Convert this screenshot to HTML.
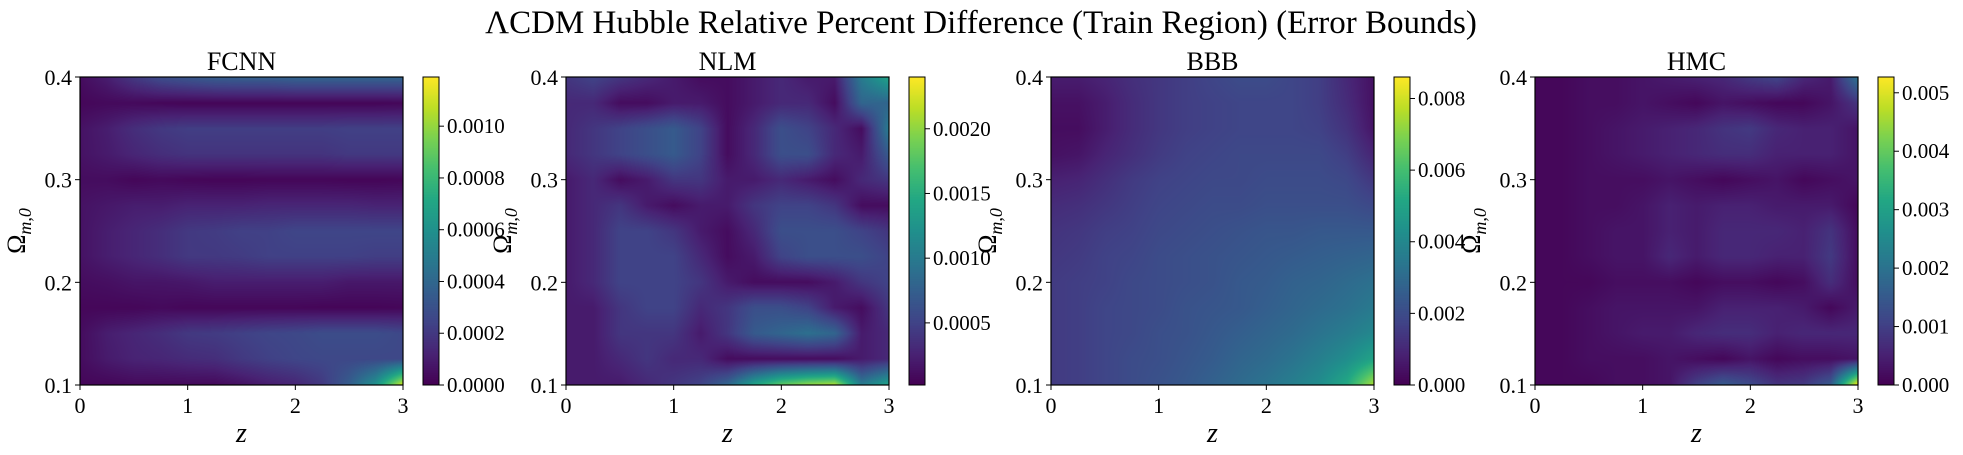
<!DOCTYPE html>
<html><head><meta charset="utf-8"><style>
body{margin:0;background:#fff;}
#wrap{position:relative;width:1963px;height:455px;overflow:hidden;background:#fff;}
canvas{position:absolute;}
svg{position:absolute;left:0;top:0;}
text{font-family:"Liberation Serif",serif;fill:#000;}
</style></head><body>
<div id="wrap">
<svg id="ov" width="1963" height="455"></svg>
</div>
<script>
// ---- data (values in units of 1e-4), rows from Omega=0.4 (top) to 0.1 (bottom), cols z=0..3 step 0.25
const zTicks=[0,1,2,3];
const omTicks=[0.1,0.2,0.3,0.4];
const panelTitles=["FCNN","NLM","BBB","HMC"];
const fcnnGrid=[
[0.4,1,2,2.8,3.2,3.5,3.6,3.6,3.8,3.8,3.8,3.8,3.8],
[0.2,0.3,0.3,0.2,0.15,0.15,0.15,0.15,0.15,0.15,0.15,0.15,0.2],
[0.6,1,1.6,2,2.2,2.2,2.2,2.2,2.2,2.2,2.3,2.3,2.3],
[0.6,0.9,1.3,1.6,1.8,1.8,1.8,1.8,1.8,1.8,2,2,2],
[0.4,0.4,0.2,0.3,0.2,0.15,0.15,0.2,0.2,0.2,0.15,0.15,0.2],
[0.6,0.8,1,1,1.2,1.2,1.2,1.3,1.3,1.3,1.3,1.2,1.2],
[0.6,1,1.3,1.6,2,2.1,2.3,2.3,2.5,2.5,2.5,2.5,2.5],
[0.6,1,1.3,1.6,2,2,2.1,2.3,2.3,2.3,2.3,2.2,2.2],
[0.4,0.5,0.7,0.7,0.8,1,1,1,1,1,0.8,0.8,0.8],
[0.2,0.2,0.2,0.3,0.2,0.2,0.2,0.2,0.2,0.15,0.15,0.15,0.2],
[0.4,1,1.3,1.6,2,2.1,2.3,2.5,2.6,2.8,2.8,2.8,2.6],
[0.4,0.9,1.2,1.3,1.5,1.6,2,2.3,2.5,2.6,2.6,2.6,2.6],
[0.2,0.2,0.3,0.3,0.3,0.3,0.6,1,1.3,2,3.5,6,11]];
const nlmGrid=[
[4,5,4,3,2,1,1,2,3,2,2,10,14],
[3,3,1,1,2,2,1,2,3,3,1,8,8],
[3,4,5,6,7,5,1,3,6,5,3,1,10],
[3,4,5,6,7,5,1,3,6,6,3,2,7],
[2,3,1,2,4,4,2,2,3,2,1,3,4],
[2,3,4,2,1,2,2,4,5,5,4,1,1],
[2,3,5,5,4,2,1,3,6,6,6,5,4],
[2,3,5,5,5,3,1,2,5,6,6,6,5],
[2,3,5,5,5,4,2,1,1,1,2,4,5],
[2,2,4,5,5,3,4,6,6,5,2,1,4],
[2,2,4,4,4,2,4,7,8,9,8,2,3],
[2,2,3,4,3,3,1,1,1,1,1,2,3],
[2,2,2,3,4,5,8,14,18,20,21,10,14]];
const bbbGrid=[
[7,7,9,12,14,16,18,20,20,18,16,10,4],
[4,4,7,11,14,16,17,18,18,18,16,11,4],
[3,3,7,11,14,16,17,18,18,18,17,13,5],
[4,5,9,12,15,17,18,19,19,19,19,16,9],
[8,9,12,15,17,18,19,19,20,20,20,19,14],
[11,12,14,16,18,19,20,20,21,21,21,21,19],
[13,14,16,17,19,20,21,22,23,23,24,24,24],
[14,15,17,18,20,21,22,23,24,25,26,27,28],
[15,16,17,19,20,21,22,24,25,27,28,30,32],
[15,16,18,19,20,22,23,24,26,28,30,32,35],
[15,16,18,19,21,22,24,26,28,30,33,36,40],
[15,16,18,20,21,23,25,28,30,33,37,42,50],
[15,16,18,20,22,24,27,30,33,37,42,52,75]];
const hmcGrid=[
[1,1,2,2,3,4,5,6,9,11,6,4,20],
[1,1,2,2,3,2,1,3,2,1,1,3,8],
[1,1,2,3,4,5,6,8,9,6,5,5,3],
[1,1,2,3,4,5,6,7,7,5,5,5,3],
[1,1,2,2,2,3,2,1,2,3,1,2,3],
[1,1,2,2,3,5,4,5,5,4,4,4,1],
[1,1,2,3,3,5,4,6,6,6,5,8,2],
[1,1,2,3,3,6,4,6,6,5,5,9,2],
[1,1,1,2,2,2,1,2,2,1,2,7,2],
[1,1,2,3,3,3,3,5,5,5,4,1,4],
[1,1,2,3,4,4,6,7,7,5,6,6,6],
[1,1,2,2,2,3,2,1,3,1,2,2,3],
[1,1,1,2,2,3,10,15,12,8,9,15,52]];
const cbarMin=[0,0.2,0,0];
const cbarMax=[11.9,24,86,52.7];
const cbarTicks=[[0,2,4,6,8,10],[5,10,15,20],[0,20,40,60,80],[0,10,20,30,40,50]];
const cbarLabels=[["0.0000","0.0002","0.0004","0.0006","0.0008","0.0010"],["0.0005","0.0010","0.0015","0.0020"],["0.000","0.002","0.004","0.006","0.008"],["0.000","0.001","0.002","0.003","0.004","0.005"]];
const grids=[fcnnGrid,nlmGrid,bbbGrid,hmcGrid];

// ---- layout
const panelLeft=[80,566,1051,1535];
const PW=323, PT=77, PH=308, CBOFF=343, CBW=16;
const NS='http://www.w3.org/2000/svg';
const ov=document.getElementById('ov');
const wrap=document.getElementById('wrap');
const VIR=[[68,1,84],[72,35,116],[64,67,135],[52,94,141],[41,120,142],[32,144,140],[34,167,132],[68,190,112],[121,209,81],[189,222,38],[253,231,37]];
function viridis(t){t=Math.max(0,Math.min(1,t));const f=t*10,i=Math.min(9,Math.floor(f)),r=f-i;const a=VIR[i],b=VIR[i+1];return [a[0]+(b[0]-a[0])*r,a[1]+(b[1]-a[1])*r,a[2]+(b[2]-a[2])*r];}
function el(tag,attrs,txt){const e=document.createElementNS(NS,tag);for(const k in attrs)e.setAttribute(k,attrs[k]);if(txt!==undefined)e.textContent=txt;ov.appendChild(e);return e;}
function xScale(p,z){return panelLeft[p]+z/3*PW;}
function yScale(o){return PT+PH-(o-0.1)/0.3*PH;}

const st=el('text',{x:981,y:33,'font-size':33,'text-anchor':'middle'},'ΛCDM Hubble Relative Percent Difference (Train Region) (Error Bounds)');



for(let p=0;p<4;p++){
  const g=grids[p], nr=g.length, nc=g[0].length, L=panelLeft[p];
  const lo=cbarMin[p], hi=cbarMax[p];
  const cv=document.createElement('canvas');
  cv.width=PW;cv.height=PH;cv.style.left=L+'px';cv.style.top=PT+'px';
  
  
  wrap.insertBefore(cv,ov);
  const ctx=cv.getContext('2d');const im=ctx.createImageData(PW,PH);
  for(let y=0;y<PH;y++){const v=y/(PH-1)*(nr-1);const r0=Math.min(nr-2,Math.floor(v)),fr=v-r0;
    for(let x=0;x<PW;x++){const u=x/(PW-1)*(nc-1);const c0=Math.min(nc-2,Math.floor(u)),fc=u-c0;
      const val=(g[r0][c0]*(1-fc)+g[r0][c0+1]*fc)*(1-fr)+(g[r0+1][c0]*(1-fc)+g[r0+1][c0+1]*fc)*fr;
      const col=viridis((val-lo)/(hi-lo));const k=(y*PW+x)*4;
      im.data[k]=col[0];im.data[k+1]=col[1];im.data[k+2]=col[2];im.data[k+3]=255;}}
  ctx.putImageData(im,0,0);
  const cb=document.createElement('canvas');cb.width=CBW;cb.height=PH;
  cb.style.left=(L+CBOFF)+'px';cb.style.top=PT+'px';
  
  
  wrap.insertBefore(cb,ov);
  const cx=cb.getContext('2d');
  for(let y=0;y<PH;y++){const c=viridis(1-y/(PH-1));cx.fillStyle='rgb('+c.map(Math.round).join(',')+')';cx.fillRect(0,y,CBW,1);}
  el('rect',{x:L+CBOFF,y:PT,width:CBW,height:PH,fill:'none',stroke:'#000','stroke-width':1});
  cbarTicks[p].forEach((t,i)=>{const y=PT+PH-(t-lo)/(hi-lo)*PH;
    el('line',{x1:L+CBOFF+CBW,x2:L+CBOFF+CBW+5,y1:y,y2:y,stroke:'#000','stroke-width':1});
    const tl=el('text',{x:L+CBOFF+CBW+8,y:y+7,'font-size':21},cbarLabels[p][i]);
    
    });
  el('rect',{x:L,y:PT,width:PW,height:PH,fill:'none',stroke:'#000','stroke-width':1.2});
  zTicks.forEach(z=>{const x=xScale(p,z);el('line',{x1:x,x2:x,y1:PT+PH,y2:PT+PH+5,stroke:'#000'});
    const tl=el('text',{x:x,y:PT+PH+28,'font-size':22,'text-anchor':'middle'},String(z));
    
    });
  omTicks.forEach(o=>{const y=yScale(o);el('line',{x1:L-5,x2:L,y1:y,y2:y,stroke:'#000'});
    const tl=el('text',{x:L-8,y:y+8,'font-size':22,'text-anchor':'end'},o.toFixed(1));
    
    });
  const t=el('text',{x:L+PW/2,y:PT-7,'font-size':26,'text-anchor':'middle'},panelTitles[p]);
  
  
  const xl=el('text',{x:L+PW/2,y:442,'font-size':28,'font-style':'italic','text-anchor':'middle'},'z');
  
  
  const yx=L-55, yy=PT+PH/2;
  const yl=el('text',{x:yx,y:yy,'font-size':26,'text-anchor':'middle',transform:'rotate(-90 '+yx+' '+yy+')'});
  
  
  const t1=document.createElementNS(NS,'tspan');t1.textContent='Ω';yl.appendChild(t1);
  const t2=document.createElementNS(NS,'tspan');t2.setAttribute('font-size','18');t2.setAttribute('font-style','italic');t2.setAttribute('dy','6');t2.textContent='m,0';yl.appendChild(t2);
}
</script>
</body></html>
